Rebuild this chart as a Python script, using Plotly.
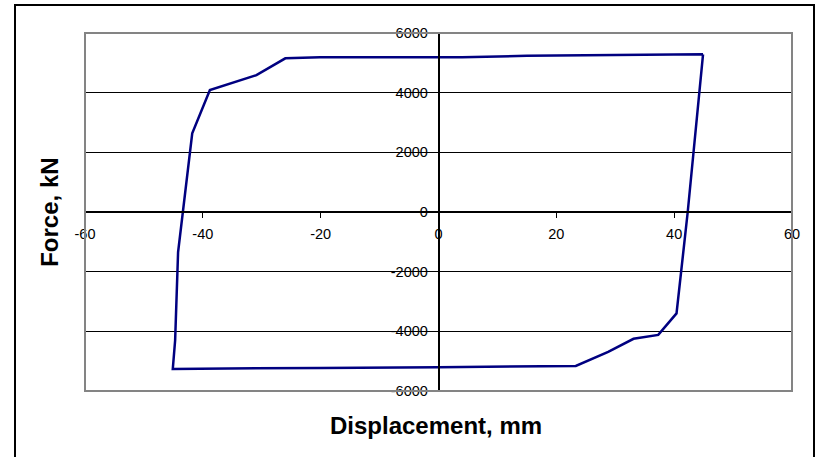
import plotly.graph_objects as go

# Data (hysteresis loop)
displacement_mm = [44.9, 42.3, 40.4, 37.3, 33.1, 28.8, 23.3, 9.6, 0.0, -20.0, -25.0,
                   -45.1, -44.7, -44.2, -41.8, -38.8, -30.9, -26.0, -20.1, 4.0, 15.0,
                   20.0, 30.0, 44.9]
force_kN = [5285, 0, -3400, -4120, -4250, -4690, -5160, -5170, -5200, -5225, -5230,
            -5260, -4300, -1340, 2640, 4090, 4590, 5150, 5185, 5190, 5235,
            5240, 5270, 5285]

x_ticks = [-60, -40, -20, 0, 20, 40, 60]
y_ticks = [-6000, -4000, -2000, 0, 2000, 4000, 6000]

W, H = 817, 457
L, R, T, B = 85, 25, 33, 66
pw, ph = W - L - R, H - T - B

def px_x(p):
    return (p - L) / pw

def px_y(p):
    return (H - B - p) / ph

FONT = "Liberation Sans, Arial, sans-serif"

fig = go.Figure()
fig.add_trace(go.Scatter(
    x=displacement_mm, y=force_kN, mode="lines",
    line=dict(color="#000080", width=2.5),
    showlegend=False, hoverinfo="skip"))

fig.update_layout(
    width=W, height=H, autosize=False,
    margin=dict(l=L, r=R, t=T, b=B, pad=0),
    paper_bgcolor="white", plot_bgcolor="white",
    font=dict(family=FONT, size=14, color="black"),
    xaxis=dict(range=[-60, 60], tickvals=x_ticks, ticktext=[str(v) for v in x_ticks],
               showgrid=False, zeroline=False, showline=True, linecolor="black",
               linewidth=1.5, ticks="outside", ticklen=5, tickcolor="black",
               tickwidth=1, anchor="free", position=0.5, ticklabelstandoff=4,
               tickfont=dict(family=FONT, size=14.5, color="black")),
    yaxis=dict(range=[-6000, 6000], tickvals=y_ticks, ticktext=[str(v) for v in y_ticks],
               showgrid=True, gridcolor="black", gridwidth=1, zeroline=False,
               showline=True, linecolor="black", linewidth=1.5, ticks="outside",
               ticklen=5, tickcolor="black", tickwidth=1, anchor="free", position=0.5,
               ticklabelstandoff=2,
               tickfont=dict(family=FONT, size=14.5, color="black")),
    shapes=[
        dict(type="rect", xref="paper", yref="paper", x0=0, x1=1, y0=0, y1=1,
             line=dict(color="#848484", width=2), fillcolor="rgba(0,0,0,0)", layer="above"),
        dict(type="rect", xref="paper", yref="paper", x0=px_x(15), x1=px_x(814),
             y0=px_y(5), y1=px_y(480),
             line=dict(color="black", width=2), fillcolor="rgba(0,0,0,0)", layer="above"),
    ],
    annotations=[
        dict(text="<b>Displacement, mm</b>", xref="paper", yref="paper",
             x=px_x(436), y=px_y(425.5), xanchor="center", yanchor="middle",
             showarrow=False, font=dict(family=FONT, size=24, color="black")),
        dict(text="<b>Force, kN</b>", xref="paper", yref="paper",
             x=px_x(49.3), y=px_y(212.5), xanchor="center", yanchor="middle",
             textangle=-90, showarrow=False,
             font=dict(family=FONT, size=24, color="black")),
    ],
)

fig.write_html("out.html", config={"displayModeBar": False})

# remove the browser's default body margin so the figure sits at (0, 0)
with open("out.html", "r", encoding="utf-8") as f:
    html = f.read()
html = html.replace("<body>", '<body style="margin:0;overflow:hidden;">', 1)
with open("out.html", "w", encoding="utf-8") as f:
    f.write(html)
